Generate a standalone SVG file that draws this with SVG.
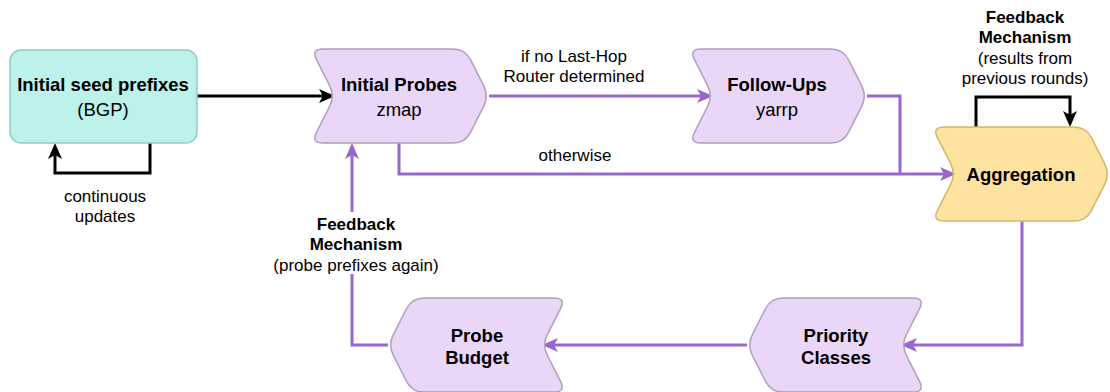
<svg xmlns="http://www.w3.org/2000/svg" xmlns:xlink="http://www.w3.org/1999/xlink" width="1110" height="392" viewBox="0 0 1110 392">
<style>
text{font-family:"Liberation Sans",Arial,sans-serif;fill:#000;text-anchor:middle}
.nb{font-size:18.5px;font-weight:bold}
.nr{font-size:18.5px}
.lb{font-size:17px;font-weight:bold}
.lr{font-size:17px}
.purple{fill:#ead7f8;stroke:#b09fbd;stroke-width:1.5}
.gold{fill:#fee29f;stroke:#d4b66a;stroke-width:1.5}
.teal{fill:#bdf2ea;stroke:#93cbc2;stroke-width:1.5}
.ck{fill:none;stroke:#000;stroke-width:3;marker-end:url(#ak)}
.ckn{fill:none;stroke:#000;stroke-width:3}
.cp{fill:none;stroke:#9966cc;stroke-width:3;marker-end:url(#ap)}
.cpn{fill:none;stroke:#9966cc;stroke-width:3}
</style>
<defs>
<path id="step" d="M12,0 L142,0 Q154,0 159.46,10.69 L172.54,36.31 Q178,47 172.54,57.69 L159.46,83.31 Q154,94 142,94 L12,94 Q0,94 5.46,83.31 L18.54,57.69 Q24,47 18.54,36.31 L5.46,10.69 Q0,0 12,0 Z"/>
<marker id="ak" markerUnits="userSpaceOnUse" viewBox="0 0 16 14" refX="11" refY="7" markerWidth="16" markerHeight="14" orient="auto">
<path d="M0,0 L16,7 L0,14 L4,7 Z" fill="#000"/>
</marker>
<marker id="ap" markerUnits="userSpaceOnUse" viewBox="0 0 16 14" refX="11" refY="7" markerWidth="16" markerHeight="14" orient="auto">
<path d="M0,0 L16,7 L0,14 L4,7 Z" fill="#9966cc"/>
</marker>
</defs>

<g id="connectors">
<path class="ck" d="M197,96 L330,96"/>
<path class="ck" d="M150,143 L150,173 L55,173 L55,148"/>
<path class="cp" d="M489,96 L708,96"/>
<path class="cpn" d="M867,96 L900,96 L900,174"/>
<path class="cp" d="M399,143 L399,174 L951,174"/>
<path class="ck" d="M976,127 L976,97 L1070,97 L1070,122"/>
<path class="cp" d="M1022,221 L1022,345 L906,345"/>
<path class="cp" d="M747,345 L547,345"/>
<path class="cp" d="M388,345 L352,345 L352,148"/>
</g>

<g id="label-lasthop">
<text class="lr" x="574" y="62">if no Last-Hop</text>
<text class="lr" x="574" y="82">Router determined</text>
</g>
<g id="label-otherwise">
<text class="lr" x="575" y="161">otherwise</text>
</g>
<g id="label-continuous">
<text class="lr" x="105" y="202">continuous</text>
<text class="lr" x="105" y="222">updates</text>
</g>
<g id="label-feedback-results">
<text class="lb" x="1025" y="23">Feedback</text>
<text class="lb" x="1025" y="43">Mechanism</text>
<text class="lr" x="1025" y="64">(results from</text>
<text class="lr" x="1025" y="84">previous rounds)</text>
</g>
<g id="label-feedback-probe">
<rect x="270" y="212" width="174" height="62" fill="#fff"/>
<text class="lb" x="356" y="230">Feedback</text>
<text class="lb" x="356" y="250">Mechanism</text>
<text class="lr" x="356" y="271">(probe prefixes again)</text>
</g>

<g id="node-seed">
<rect class="teal" x="10" y="50" width="187" height="93" rx="11"/>
<text class="nb" x="103" y="91">Initial seed prefixes</text>
<text class="nr" x="103" y="116">(BGP)</text>
</g>
<g id="node-initial-probes">
<use href="#step" class="purple" transform="translate(311,49)"/>
<text class="nb" x="399" y="91">Initial Probes</text>
<text class="nr" x="399" y="116">zmap</text>
</g>
<g id="node-follow-ups">
<use href="#step" class="purple" transform="translate(689,49)"/>
<text class="nb" x="777" y="91">Follow-Ups</text>
<text class="nr" x="777" y="116">yarrp</text>
</g>
<g id="node-aggregation">
<use href="#step" class="gold" transform="translate(932,127)"/>
<text class="nb" x="1021" y="181">Aggregation</text>
</g>
<g id="node-priority">
<use href="#step" class="purple" transform="translate(925,298) scale(-1,1)"/>
<text class="nb" x="836" y="342">Priority</text>
<text class="nb" x="836" y="364">Classes</text>
</g>
<g id="node-budget">
<use href="#step" class="purple" transform="translate(566,298) scale(-1,1)"/>
<text class="nb" x="477" y="342">Probe</text>
<text class="nb" x="477" y="364">Budget</text>
</g>
</svg>
